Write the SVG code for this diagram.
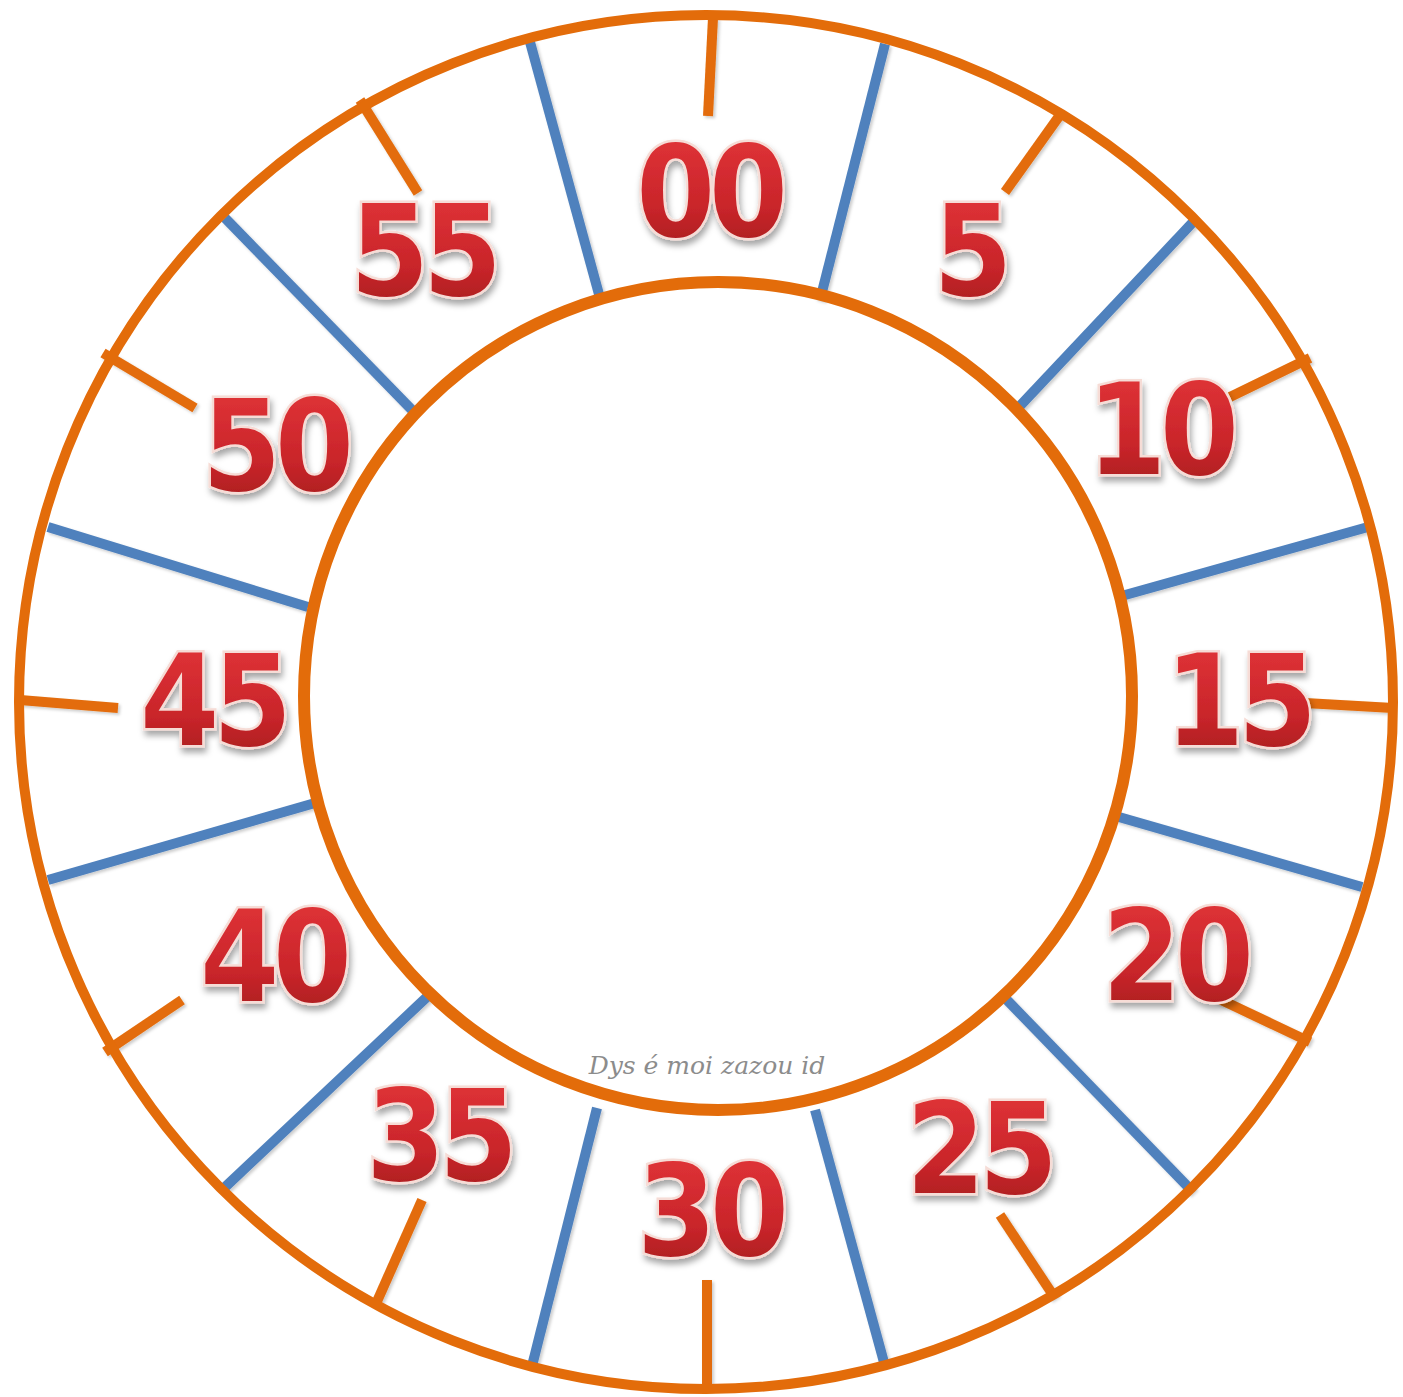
<svg xmlns="http://www.w3.org/2000/svg" width="1403" height="1397" viewBox="0 0 1403 1397">
<style>
.ring{fill:none;stroke:#e36c0a;stroke-width:10}
.inner{fill:none;stroke:#e36c0a;stroke-width:12}
.tick{stroke:#e36c0a;stroke-width:10;fill:none}
.spoke{stroke:#4f81bd;stroke-width:10;fill:none}
.num{font-family:"DejaVu Sans Condensed","DejaVu Sans",sans-serif;font-weight:bold;font-size:126px;letter-spacing:-6px;text-anchor:middle;fill:url(#red);stroke:#f6dcd6;stroke-width:5;paint-order:stroke;filter:url(#sh)}
.wm{font-family:"DejaVu Serif","Liberation Serif",serif;font-style:italic;font-size:25px;fill:#8c8c8c;text-anchor:middle}
</style>
<defs>
<linearGradient id="red" x1="0" y1="0" x2="0" y2="1">
<stop offset="0" stop-color="#e5363a"/>
<stop offset="0.6" stop-color="#c9252a"/>
<stop offset="1" stop-color="#9e1a1c"/>
</linearGradient>
<filter id="sh" x="-20%" y="-20%" width="140%" height="150%">
<feDropShadow dx="2" dy="5" stdDeviation="3" flood-color="#000" flood-opacity="0.35"/>
</filter>
<filter id="ls" x="-10%" y="-10%" width="120%" height="120%">
<feDropShadow dx="2" dy="2" stdDeviation="1.5" flood-color="#000" flood-opacity="0.2"/>
</filter>
</defs>
<rect width="1403" height="1397" fill="#fff"/>
<g id="connectors" filter="url(#ls)">
<line class="spoke" x1="530" y1="42" x2="600" y2="298"/>
<line class="spoke" x1="885" y1="44" x2="820" y2="300"/>
<line class="spoke" x1="1195" y1="220" x2="1018" y2="408"/>
<line class="spoke" x1="1368" y1="527" x2="1118" y2="597"/>
<line class="spoke" x1="1362" y1="887" x2="1112" y2="815"/>
<line class="spoke" x1="1193" y1="1192" x2="1005" y2="998"/>
<line class="spoke" x1="885" y1="1366" x2="815" y2="1110"/>
<line class="spoke" x1="532" y1="1366" x2="597" y2="1108"/>
<line class="spoke" x1="222" y1="1190" x2="428" y2="996"/>
<line class="spoke" x1="48" y1="880" x2="315" y2="803"/>
<line class="spoke" x1="48" y1="527" x2="308" y2="607"/>
<line class="spoke" x1="225" y1="218" x2="412" y2="410"/>
<line class="tick" x1="713" y1="18" x2="708" y2="116"/>
<line class="tick" x1="1060" y1="115" x2="1005" y2="192"/>
<line class="tick" x1="1310" y1="358" x2="1230" y2="397"/>
<line class="tick" x1="1393" y1="708" x2="1305" y2="703"/>
<line class="tick" x1="1310" y1="1042" x2="1215" y2="997"/>
<line class="tick" x1="1055" y1="1298" x2="1000" y2="1215"/>
<line class="tick" x1="707" y1="1390" x2="707" y2="1280"/>
<line class="tick" x1="375" y1="1306" x2="422" y2="1200"/>
<line class="tick" x1="105" y1="1052" x2="182" y2="1000"/>
<line class="tick" x1="20" y1="700" x2="118" y2="708"/>
<line class="tick" x1="103" y1="353" x2="195" y2="408"/>
<line class="tick" x1="360" y1="100" x2="418" y2="193"/>
</g>
<g id="outer-ring"><circle class="ring" cx="706" cy="702" r="687"/></g>
<g id="inner-ring"><circle class="inner" cx="718" cy="696" r="414"/></g>
<g id="n00"><text class="num" x="709" y="236">00</text></g>
<g id="n05"><text class="num" x="970" y="295">5</text></g>
<g id="n10"><text class="num" x="1160" y="474">10</text></g>
<g id="n15"><text class="num" x="1238" y="745">15</text></g>
<g id="n20"><text class="num" x="1175" y="1000">20</text></g>
<g id="n25"><text class="num" x="979" y="1193">25</text></g>
<g id="n30"><text class="num" x="710" y="1255">30</text></g>
<g id="n35"><text class="num" x="439" y="1180">35</text></g>
<g id="n40"><text class="num" x="273" y="1001">40</text></g>
<g id="n45"><text class="num" x="213" y="745">45</text></g>
<g id="n50"><text class="num" x="275" y="490">50</text></g>
<g id="n55"><text class="num" x="423" y="295">55</text></g>
<g id="watermark"><text class="wm" x="707" y="1074">Dys é moi zazou id</text></g>
</svg>
